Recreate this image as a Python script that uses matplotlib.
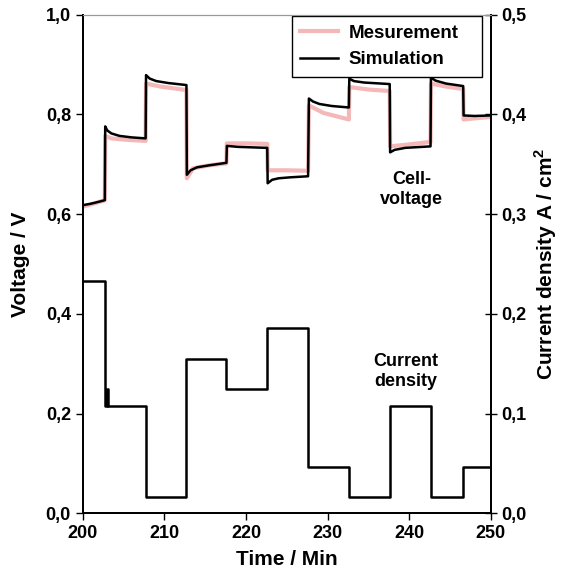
import numpy as np
import matplotlib
matplotlib.use("Agg")
from matplotlib import pyplot as plt
from matplotlib.ticker import FuncFormatter

plt.rcParams['font.family'] = ['Liberation Sans', 'DejaVu Sans']
plt.rcParams['font.weight'] = 'bold'
plt.rcParams['mathtext.fontset'] = 'custom'
plt.rcParams['mathtext.bf'] = 'Liberation Sans:bold'
plt.rcParams['mathtext.rm'] = 'Liberation Sans:bold'

# Simulation (cell voltage, V)
sim_t = [200.0, 201.0, 202.0, 202.7, 202.75, 203.0, 203.5, 204.5, 206.0, 207.7,
         207.75, 208.2, 209.0, 210.5, 212.7,
         212.75, 213.2, 214.0, 215.5, 217.6,
         217.65, 219.0, 222.6,
         222.65, 223.2, 224.0, 225.5, 227.6,
         227.7, 228.2, 229.0, 230.5, 232.6,
         232.65, 233.2, 234.5, 237.6,
         237.65, 238.2, 239.5, 242.6,
         242.65, 243.2, 244.5, 246.6,
         246.65, 248.0, 250.0]
sim_v = [0.618, 0.621, 0.625, 0.628, 0.776, 0.768, 0.762, 0.757, 0.754, 0.752,
         0.879, 0.872, 0.867, 0.863, 0.859,
         0.679, 0.688, 0.694, 0.698, 0.703,
         0.737, 0.735, 0.733,
         0.662, 0.669, 0.672, 0.674, 0.676,
         0.832, 0.826, 0.821, 0.817, 0.814,
         0.872, 0.867, 0.864, 0.861,
         0.724, 0.729, 0.733, 0.736,
         0.874, 0.868, 0.862, 0.857,
         0.798, 0.797, 0.798]

# Measurement (cell voltage, V)
mes_t = [200.0, 201.5, 202.7, 202.75, 203.5, 205.5, 207.7,
         207.75, 209.5, 212.7,
         212.75, 213.5, 215.5, 217.6,
         217.65, 220.0, 222.6,
         222.65, 225.0, 227.6,
         227.7, 229.5, 232.6,
         232.65, 235.0, 237.6,
         237.65, 240.0, 242.6,
         242.65, 244.5, 246.6,
         246.65, 248.5, 250.0]
mes_v = [0.615, 0.622, 0.628, 0.757, 0.752, 0.749, 0.747,
         0.862, 0.856, 0.849,
         0.672, 0.692, 0.698, 0.702,
         0.742, 0.742, 0.741,
         0.688, 0.688, 0.687,
         0.818, 0.803, 0.790,
         0.855, 0.850, 0.847,
         0.736, 0.740, 0.745,
         0.862, 0.856, 0.851,
         0.790, 0.793, 0.795]

# Current density (A/cm2), step changes
cur_t = [200.0, 202.75, 202.95, 203.05, 207.7, 212.7, 217.6, 222.6, 227.6,
         232.6, 237.6, 242.6, 246.6, 250.0]
cur_i = [0.233, 0.108, 0.125, 0.108, 0.016, 0.155, 0.125, 0.186, 0.0465,
         0.016, 0.108, 0.016, 0.0465, 0.0465]

comma = FuncFormatter(lambda v, p: ('%.1f' % v).replace('.', ','))

fig = plt.figure(figsize=(5.63, 5.79), dpi=100)
ax = fig.add_axes([0.147, 0.1135, 0.725, 0.861])
ax2 = ax.twinx()

ax.plot(mes_t, mes_v, color='#f5b8b8', lw=3.0, label='Mesurement')
ax.plot(sim_t, sim_v, color='black', lw=1.8, label='Simulation')
ax2.plot(cur_t, cur_i, color='black', lw=1.8, drawstyle='steps-post')

ax.set_xlim(200, 250)
ax.set_ylim(0, 1.0)
ax2.set_ylim(0, 0.5)
ax.set_xticks([200, 210, 220, 230, 240, 250])
ax.set_yticks([0, 0.2, 0.4, 0.6, 0.8, 1.0])
ax2.set_yticks([0, 0.1, 0.2, 0.3, 0.4, 0.5])
ax.yaxis.set_major_formatter(comma)
ax2.yaxis.set_major_formatter(comma)

ax.tick_params(axis='both', labelsize=13, width=1, length=5, direction='out')
ax2.tick_params(axis='y', labelsize=13, width=1, length=8, direction='inout')

for a in (ax, ax2):
    a.spines['top'].set_color('#999999')
    a.spines['top'].set_linewidth(0.8)
    for s in ('left', 'bottom', 'right'):
        a.spines[s].set_linewidth(1.3)

ax.set_xlabel('Time / Min', fontsize=15, fontweight='bold', labelpad=6)
ax.set_ylabel('Voltage / V', fontsize=15, fontweight='bold', labelpad=11)
ax2.set_ylabel(r'Current density A / cm$^{\mathbf{2}}$', fontsize=15,
               fontweight='bold', labelpad=4)

ax.text(240.3, 0.65, 'Cell-\nvoltage', fontsize=13, ha='center', va='center',
        linespacing=1.2)
ax.text(239.6, 0.284, 'Current\ndensity', fontsize=13, ha='center', va='center',
        linespacing=1.2)

leg = ax.legend(loc='upper left', bbox_to_anchor=(0.512, 0.997, 0.466, 0.0),
                mode='expand', fontsize=13.5,
                fancybox=False, edgecolor='black', framealpha=1,
                handlelength=2.0, borderpad=0.45, labelspacing=0.5,
                handletextpad=0.6, borderaxespad=0)
leg.get_frame().set_linewidth(1.0)
leg.set_zorder(10)

fig.savefig('out.png', dpi=100)
